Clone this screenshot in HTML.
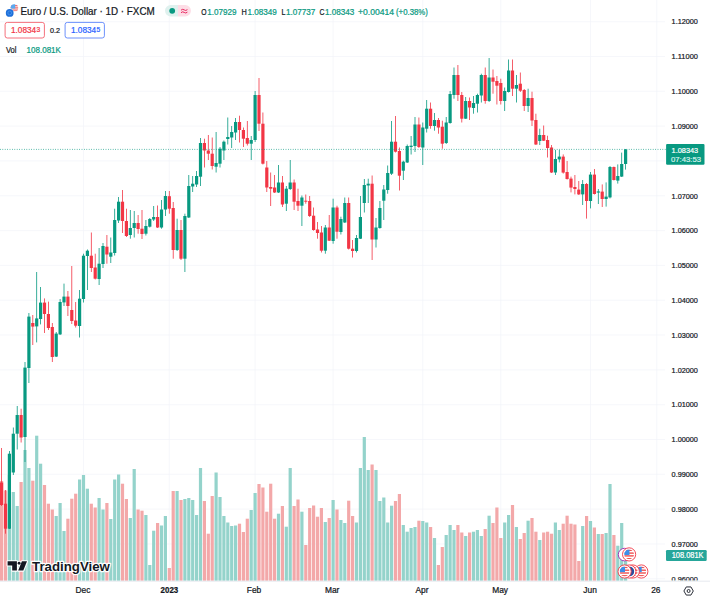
<!DOCTYPE html>
<html><head><meta charset="utf-8"><title>EURUSD chart</title>
<style>html,body{margin:0;padding:0;background:#fff;overflow:hidden}svg{display:block}</style></head>
<body>
<svg width="710" height="600" viewBox="0 0 710 600">
<rect width="710" height="600" fill="#fff"/>
<g stroke="#f2f4f9" stroke-width="0.7">
<line x1="0" x2="665" y1="21.7" y2="21.7"/>
<line x1="0" x2="665" y1="56.5" y2="56.5"/>
<line x1="0" x2="665" y1="91.3" y2="91.3"/>
<line x1="0" x2="665" y1="126.1" y2="126.1"/>
<line x1="0" x2="665" y1="160.9" y2="160.9"/>
<line x1="0" x2="665" y1="195.8" y2="195.8"/>
<line x1="0" x2="665" y1="230.6" y2="230.6"/>
<line x1="0" x2="665" y1="265.4" y2="265.4"/>
<line x1="0" x2="665" y1="300.2" y2="300.2"/>
<line x1="0" x2="665" y1="335.0" y2="335.0"/>
<line x1="0" x2="665" y1="369.9" y2="369.9"/>
<line x1="0" x2="665" y1="404.7" y2="404.7"/>
<line x1="0" x2="665" y1="439.5" y2="439.5"/>
<line x1="0" x2="665" y1="474.3" y2="474.3"/>
<line x1="0" x2="665" y1="509.1" y2="509.1"/>
<line x1="0" x2="665" y1="544.0" y2="544.0"/>
<line x1="0" x2="665" y1="578.8" y2="578.8"/>
<line x1="83.5" x2="83.5" y1="0" y2="580.7"/>
<line x1="169.3" x2="169.3" y1="0" y2="580.7"/>
<line x1="255.1" x2="255.1" y1="0" y2="580.7"/>
<line x1="333.1" x2="333.1" y1="0" y2="580.7"/>
<line x1="422.8" x2="422.8" y1="0" y2="580.7"/>
<line x1="500.8" x2="500.8" y1="0" y2="580.7"/>
<line x1="590.5" x2="590.5" y1="0" y2="580.7"/>
<line x1="656.8" x2="656.8" y1="0" y2="580.7"/>
</g>
<g>
<rect x="0.00" y="481.0" width="3.20" height="99.7" fill="#f3a8a9"/>
<rect x="3.90" y="490.5" width="3.20" height="90.2" fill="#f3a8a9"/>
<rect x="7.80" y="475.0" width="3.20" height="105.7" fill="#94d3cb"/>
<rect x="11.70" y="492.0" width="3.20" height="88.7" fill="#94d3cb"/>
<rect x="15.60" y="506.0" width="3.20" height="74.7" fill="#94d3cb"/>
<rect x="19.50" y="482.0" width="3.20" height="98.7" fill="#f3a8a9"/>
<rect x="23.40" y="450.0" width="3.20" height="130.7" fill="#94d3cb"/>
<rect x="27.30" y="468.0" width="3.20" height="112.7" fill="#94d3cb"/>
<rect x="31.20" y="480.7" width="3.20" height="100.0" fill="#f3a8a9"/>
<rect x="35.10" y="435.7" width="3.20" height="145.0" fill="#94d3cb"/>
<rect x="39.00" y="463.7" width="3.20" height="117.0" fill="#94d3cb"/>
<rect x="42.90" y="485.0" width="3.20" height="95.7" fill="#f3a8a9"/>
<rect x="46.80" y="503.7" width="3.20" height="77.0" fill="#f3a8a9"/>
<rect x="50.70" y="509.5" width="3.20" height="71.2" fill="#f3a8a9"/>
<rect x="54.60" y="516.0" width="3.20" height="64.7" fill="#94d3cb"/>
<rect x="58.50" y="503.0" width="3.20" height="77.7" fill="#94d3cb"/>
<rect x="62.40" y="531.0" width="3.20" height="49.7" fill="#94d3cb"/>
<rect x="66.30" y="518.7" width="3.20" height="62.0" fill="#f3a8a9"/>
<rect x="70.20" y="498.7" width="3.20" height="82.0" fill="#f3a8a9"/>
<rect x="74.10" y="493.7" width="3.20" height="87.0" fill="#f3a8a9"/>
<rect x="78.00" y="479.5" width="3.20" height="101.2" fill="#94d3cb"/>
<rect x="81.90" y="475.0" width="3.20" height="105.7" fill="#94d3cb"/>
<rect x="85.80" y="488.7" width="3.20" height="92.0" fill="#94d3cb"/>
<rect x="89.70" y="503.7" width="3.20" height="77.0" fill="#f3a8a9"/>
<rect x="93.60" y="507.5" width="3.20" height="73.2" fill="#f3a8a9"/>
<rect x="97.50" y="498.0" width="3.20" height="82.7" fill="#94d3cb"/>
<rect x="101.40" y="509.5" width="3.20" height="71.2" fill="#94d3cb"/>
<rect x="105.30" y="503.0" width="3.20" height="77.7" fill="#f3a8a9"/>
<rect x="109.20" y="519.0" width="3.20" height="61.7" fill="#94d3cb"/>
<rect x="113.10" y="479.5" width="3.20" height="101.2" fill="#94d3cb"/>
<rect x="117.00" y="474.5" width="3.20" height="106.2" fill="#94d3cb"/>
<rect x="120.90" y="483.7" width="3.20" height="97.0" fill="#f3a8a9"/>
<rect x="124.80" y="499.0" width="3.20" height="81.7" fill="#f3a8a9"/>
<rect x="128.70" y="518.0" width="3.20" height="62.7" fill="#94d3cb"/>
<rect x="132.60" y="469.0" width="3.20" height="111.7" fill="#94d3cb"/>
<rect x="136.50" y="509.5" width="3.20" height="71.2" fill="#f3a8a9"/>
<rect x="140.40" y="510.7" width="3.20" height="70.0" fill="#f3a8a9"/>
<rect x="144.30" y="515.0" width="3.20" height="65.7" fill="#94d3cb"/>
<rect x="148.20" y="565.0" width="3.20" height="15.7" fill="#94d3cb"/>
<rect x="152.10" y="530.7" width="3.20" height="50.0" fill="#94d3cb"/>
<rect x="156.00" y="523.0" width="3.20" height="57.7" fill="#f3a8a9"/>
<rect x="159.90" y="525.5" width="3.20" height="55.2" fill="#94d3cb"/>
<rect x="163.80" y="516.0" width="3.20" height="64.7" fill="#94d3cb"/>
<rect x="167.70" y="568.0" width="3.20" height="12.7" fill="#f3a8a9"/>
<rect x="171.60" y="491.0" width="3.20" height="89.7" fill="#f3a8a9"/>
<rect x="175.50" y="491.0" width="3.20" height="89.7" fill="#94d3cb"/>
<rect x="179.40" y="500.0" width="3.20" height="80.7" fill="#f3a8a9"/>
<rect x="183.30" y="499.0" width="3.20" height="81.7" fill="#94d3cb"/>
<rect x="187.20" y="498.0" width="3.20" height="82.7" fill="#94d3cb"/>
<rect x="191.10" y="500.0" width="3.20" height="80.7" fill="#94d3cb"/>
<rect x="195.00" y="515.0" width="3.20" height="65.7" fill="#94d3cb"/>
<rect x="198.90" y="468.0" width="3.20" height="112.7" fill="#94d3cb"/>
<rect x="202.80" y="501.0" width="3.20" height="79.7" fill="#f3a8a9"/>
<rect x="206.70" y="533.7" width="3.20" height="47.0" fill="#f3a8a9"/>
<rect x="210.60" y="496.0" width="3.20" height="84.7" fill="#f3a8a9"/>
<rect x="214.50" y="472.5" width="3.20" height="108.2" fill="#94d3cb"/>
<rect x="218.40" y="497.0" width="3.20" height="83.7" fill="#94d3cb"/>
<rect x="222.30" y="516.0" width="3.20" height="64.7" fill="#94d3cb"/>
<rect x="226.20" y="522.5" width="3.20" height="58.2" fill="#94d3cb"/>
<rect x="230.10" y="526.0" width="3.20" height="54.7" fill="#94d3cb"/>
<rect x="234.00" y="525.5" width="3.20" height="55.2" fill="#94d3cb"/>
<rect x="237.90" y="523.7" width="3.20" height="57.0" fill="#f3a8a9"/>
<rect x="241.80" y="532.0" width="3.20" height="48.7" fill="#f3a8a9"/>
<rect x="245.70" y="518.7" width="3.20" height="62.0" fill="#f3a8a9"/>
<rect x="249.60" y="510.0" width="3.20" height="70.7" fill="#94d3cb"/>
<rect x="253.50" y="493.0" width="3.20" height="87.7" fill="#94d3cb"/>
<rect x="257.40" y="484.0" width="3.20" height="96.7" fill="#f3a8a9"/>
<rect x="261.30" y="487.5" width="3.20" height="93.2" fill="#f3a8a9"/>
<rect x="265.20" y="511.7" width="3.20" height="69.0" fill="#f3a8a9"/>
<rect x="269.10" y="483.7" width="3.20" height="97.0" fill="#f3a8a9"/>
<rect x="273.00" y="518.7" width="3.20" height="62.0" fill="#f3a8a9"/>
<rect x="276.90" y="513.7" width="3.20" height="67.0" fill="#94d3cb"/>
<rect x="280.80" y="506.0" width="3.20" height="74.7" fill="#f3a8a9"/>
<rect x="284.70" y="526.7" width="3.20" height="54.0" fill="#94d3cb"/>
<rect x="288.60" y="468.0" width="3.20" height="112.7" fill="#94d3cb"/>
<rect x="292.50" y="506.0" width="3.20" height="74.7" fill="#f3a8a9"/>
<rect x="296.40" y="499.5" width="3.20" height="81.2" fill="#f3a8a9"/>
<rect x="300.30" y="511.7" width="3.20" height="69.0" fill="#94d3cb"/>
<rect x="304.20" y="545.0" width="3.20" height="35.7" fill="#f3a8a9"/>
<rect x="308.10" y="508.0" width="3.20" height="72.7" fill="#f3a8a9"/>
<rect x="312.00" y="505.5" width="3.20" height="75.2" fill="#f3a8a9"/>
<rect x="315.90" y="516.7" width="3.20" height="64.0" fill="#f3a8a9"/>
<rect x="319.80" y="508.0" width="3.20" height="72.7" fill="#f3a8a9"/>
<rect x="323.70" y="522.0" width="3.20" height="58.7" fill="#94d3cb"/>
<rect x="327.60" y="518.0" width="3.20" height="62.7" fill="#f3a8a9"/>
<rect x="331.50" y="500.0" width="3.20" height="80.7" fill="#94d3cb"/>
<rect x="335.40" y="509.5" width="3.20" height="71.2" fill="#f3a8a9"/>
<rect x="339.30" y="520.0" width="3.20" height="60.7" fill="#94d3cb"/>
<rect x="343.20" y="523.0" width="3.20" height="57.7" fill="#94d3cb"/>
<rect x="347.10" y="500.7" width="3.20" height="80.0" fill="#f3a8a9"/>
<rect x="351.00" y="516.0" width="3.20" height="64.7" fill="#f3a8a9"/>
<rect x="354.90" y="522.5" width="3.20" height="58.2" fill="#94d3cb"/>
<rect x="358.80" y="468.0" width="3.20" height="112.7" fill="#94d3cb"/>
<rect x="362.70" y="437.0" width="3.20" height="143.7" fill="#94d3cb"/>
<rect x="366.60" y="470.0" width="3.20" height="110.7" fill="#94d3cb"/>
<rect x="370.50" y="464.5" width="3.20" height="116.2" fill="#f3a8a9"/>
<rect x="374.40" y="470.0" width="3.20" height="110.7" fill="#94d3cb"/>
<rect x="378.30" y="501.0" width="3.20" height="79.7" fill="#94d3cb"/>
<rect x="382.20" y="497.5" width="3.20" height="83.2" fill="#94d3cb"/>
<rect x="386.10" y="522.5" width="3.20" height="58.2" fill="#94d3cb"/>
<rect x="390.00" y="505.7" width="3.20" height="75.0" fill="#94d3cb"/>
<rect x="393.90" y="501.0" width="3.20" height="79.7" fill="#f3a8a9"/>
<rect x="397.80" y="494.0" width="3.20" height="86.7" fill="#f3a8a9"/>
<rect x="401.70" y="525.0" width="3.20" height="55.7" fill="#94d3cb"/>
<rect x="405.60" y="531.7" width="3.20" height="49.0" fill="#94d3cb"/>
<rect x="409.50" y="528.0" width="3.20" height="52.7" fill="#94d3cb"/>
<rect x="413.40" y="527.0" width="3.20" height="53.7" fill="#94d3cb"/>
<rect x="417.30" y="520.7" width="3.20" height="60.0" fill="#f3a8a9"/>
<rect x="421.20" y="521.0" width="3.20" height="59.7" fill="#94d3cb"/>
<rect x="425.10" y="522.5" width="3.20" height="58.2" fill="#94d3cb"/>
<rect x="429.00" y="527.0" width="3.20" height="53.7" fill="#f3a8a9"/>
<rect x="432.90" y="538.0" width="3.20" height="42.7" fill="#94d3cb"/>
<rect x="436.80" y="565.0" width="3.20" height="15.7" fill="#f3a8a9"/>
<rect x="440.70" y="547.0" width="3.20" height="33.7" fill="#f3a8a9"/>
<rect x="444.60" y="535.0" width="3.20" height="45.7" fill="#94d3cb"/>
<rect x="448.50" y="525.0" width="3.20" height="55.7" fill="#94d3cb"/>
<rect x="452.40" y="530.0" width="3.20" height="50.7" fill="#94d3cb"/>
<rect x="456.30" y="525.0" width="3.20" height="55.7" fill="#f3a8a9"/>
<rect x="460.20" y="532.5" width="3.20" height="48.2" fill="#f3a8a9"/>
<rect x="464.10" y="536.0" width="3.20" height="44.7" fill="#94d3cb"/>
<rect x="468.00" y="532.5" width="3.20" height="48.2" fill="#f3a8a9"/>
<rect x="471.90" y="531.7" width="3.20" height="49.0" fill="#94d3cb"/>
<rect x="475.80" y="530.0" width="3.20" height="50.7" fill="#94d3cb"/>
<rect x="479.70" y="536.0" width="3.20" height="44.7" fill="#94d3cb"/>
<rect x="483.60" y="529.0" width="3.20" height="51.7" fill="#f3a8a9"/>
<rect x="487.50" y="515.7" width="3.20" height="65.0" fill="#94d3cb"/>
<rect x="491.40" y="523.0" width="3.20" height="57.7" fill="#f3a8a9"/>
<rect x="495.30" y="507.5" width="3.20" height="73.2" fill="#f3a8a9"/>
<rect x="499.20" y="538.0" width="3.20" height="42.7" fill="#f3a8a9"/>
<rect x="503.10" y="522.5" width="3.20" height="58.2" fill="#94d3cb"/>
<rect x="507.00" y="515.0" width="3.20" height="65.7" fill="#94d3cb"/>
<rect x="510.90" y="505.0" width="3.20" height="75.7" fill="#f3a8a9"/>
<rect x="514.80" y="527.0" width="3.20" height="53.7" fill="#94d3cb"/>
<rect x="518.70" y="539.0" width="3.20" height="41.7" fill="#f3a8a9"/>
<rect x="522.60" y="533.0" width="3.20" height="47.7" fill="#f3a8a9"/>
<rect x="526.50" y="520.7" width="3.20" height="60.0" fill="#94d3cb"/>
<rect x="530.40" y="518.0" width="3.20" height="62.7" fill="#f3a8a9"/>
<rect x="534.30" y="531.7" width="3.20" height="49.0" fill="#f3a8a9"/>
<rect x="538.20" y="540.0" width="3.20" height="40.7" fill="#94d3cb"/>
<rect x="542.10" y="532.5" width="3.20" height="48.2" fill="#f3a8a9"/>
<rect x="546.00" y="531.7" width="3.20" height="49.0" fill="#f3a8a9"/>
<rect x="549.90" y="533.7" width="3.20" height="47.0" fill="#f3a8a9"/>
<rect x="553.80" y="522.5" width="3.20" height="58.2" fill="#94d3cb"/>
<rect x="557.70" y="530.0" width="3.20" height="50.7" fill="#94d3cb"/>
<rect x="561.60" y="523.7" width="3.20" height="57.0" fill="#f3a8a9"/>
<rect x="565.50" y="515.7" width="3.20" height="65.0" fill="#f3a8a9"/>
<rect x="569.40" y="523.7" width="3.20" height="57.0" fill="#f3a8a9"/>
<rect x="573.30" y="524.5" width="3.20" height="56.2" fill="#f3a8a9"/>
<rect x="577.20" y="561.0" width="3.20" height="19.7" fill="#f3a8a9"/>
<rect x="581.10" y="526.0" width="3.20" height="54.7" fill="#94d3cb"/>
<rect x="585.00" y="516.0" width="3.20" height="64.7" fill="#f3a8a9"/>
<rect x="588.90" y="521.0" width="3.20" height="59.7" fill="#94d3cb"/>
<rect x="592.80" y="527.5" width="3.20" height="53.2" fill="#f3a8a9"/>
<rect x="596.70" y="534.0" width="3.20" height="46.7" fill="#94d3cb"/>
<rect x="600.60" y="534.0" width="3.20" height="46.7" fill="#f3a8a9"/>
<rect x="604.50" y="533.0" width="3.20" height="47.7" fill="#94d3cb"/>
<rect x="608.40" y="484.0" width="3.20" height="96.7" fill="#94d3cb"/>
<rect x="612.30" y="535.0" width="3.20" height="45.7" fill="#f3a8a9"/>
<rect x="616.20" y="545.7" width="3.20" height="35.0" fill="#94d3cb"/>
<rect x="620.10" y="523.0" width="3.20" height="57.7" fill="#94d3cb"/>
<rect x="624.00" y="555.0" width="3.20" height="25.7" fill="#94d3cb"/>
</g>
<g>
<rect x="1.20" y="448.0" width="0.8" height="58.0" fill="#f23645"/>
<rect x="0.00" y="482.5" width="3.20" height="22.5" fill="#f23645"/>
<rect x="5.10" y="490.0" width="0.8" height="43.7" fill="#f23645"/>
<rect x="3.90" y="503.7" width="3.20" height="25.0" fill="#f23645"/>
<rect x="9.00" y="451.0" width="0.8" height="78.0" fill="#089981"/>
<rect x="7.80" y="453.7" width="3.20" height="75.0" fill="#089981"/>
<rect x="12.90" y="427.5" width="0.8" height="47.5" fill="#089981"/>
<rect x="11.70" y="433.7" width="3.20" height="38.8" fill="#089981"/>
<rect x="16.80" y="406.0" width="0.8" height="43.5" fill="#089981"/>
<rect x="15.60" y="415.0" width="3.20" height="18.7" fill="#089981"/>
<rect x="20.70" y="408.7" width="0.8" height="33.8" fill="#f23645"/>
<rect x="19.50" y="415.0" width="3.20" height="22.5" fill="#f23645"/>
<rect x="24.60" y="362.0" width="0.8" height="100.0" fill="#089981"/>
<rect x="23.40" y="367.6" width="3.20" height="69.4" fill="#089981"/>
<rect x="28.50" y="313.0" width="0.8" height="70.0" fill="#089981"/>
<rect x="27.30" y="316.6" width="3.20" height="51.4" fill="#089981"/>
<rect x="32.40" y="315.0" width="0.8" height="30.0" fill="#f23645"/>
<rect x="31.20" y="323.0" width="3.20" height="3.6" fill="#f23645"/>
<rect x="36.30" y="272.0" width="0.8" height="70.4" fill="#089981"/>
<rect x="35.10" y="318.4" width="3.20" height="8.0" fill="#089981"/>
<rect x="40.20" y="287.0" width="0.8" height="37.4" fill="#089981"/>
<rect x="39.00" y="302.6" width="3.20" height="16.4" fill="#089981"/>
<rect x="44.10" y="298.4" width="0.8" height="34.6" fill="#f23645"/>
<rect x="42.90" y="302.6" width="3.20" height="11.4" fill="#f23645"/>
<rect x="48.00" y="301.6" width="0.8" height="28.4" fill="#f23645"/>
<rect x="46.80" y="314.0" width="3.20" height="14.0" fill="#f23645"/>
<rect x="51.90" y="323.0" width="0.8" height="39.0" fill="#f23645"/>
<rect x="50.70" y="327.0" width="3.20" height="30.0" fill="#f23645"/>
<rect x="55.80" y="332.0" width="0.8" height="25.0" fill="#089981"/>
<rect x="54.60" y="333.6" width="3.20" height="23.0" fill="#089981"/>
<rect x="59.70" y="299.0" width="0.8" height="36.0" fill="#089981"/>
<rect x="58.50" y="302.0" width="3.20" height="32.4" fill="#089981"/>
<rect x="63.60" y="283.6" width="0.8" height="22.4" fill="#089981"/>
<rect x="62.40" y="296.6" width="3.20" height="5.8" fill="#089981"/>
<rect x="67.50" y="291.0" width="0.8" height="25.0" fill="#f23645"/>
<rect x="66.30" y="296.6" width="3.20" height="9.4" fill="#f23645"/>
<rect x="71.40" y="266.0" width="0.8" height="58.0" fill="#f23645"/>
<rect x="70.20" y="310.0" width="3.20" height="11.0" fill="#f23645"/>
<rect x="75.30" y="302.0" width="0.8" height="25.5" fill="#f23645"/>
<rect x="74.10" y="320.5" width="3.20" height="5.2" fill="#f23645"/>
<rect x="79.20" y="290.0" width="0.8" height="47.5" fill="#089981"/>
<rect x="78.00" y="298.7" width="3.20" height="27.3" fill="#089981"/>
<rect x="83.10" y="253.7" width="0.8" height="48.8" fill="#089981"/>
<rect x="81.90" y="255.7" width="3.20" height="43.3" fill="#089981"/>
<rect x="87.00" y="249.5" width="0.8" height="40.5" fill="#089981"/>
<rect x="85.80" y="250.7" width="3.20" height="5.3" fill="#089981"/>
<rect x="90.90" y="232.5" width="0.8" height="39.5" fill="#f23645"/>
<rect x="89.70" y="255.7" width="3.20" height="12.3" fill="#f23645"/>
<rect x="94.80" y="253.7" width="0.8" height="25.8" fill="#f23645"/>
<rect x="93.60" y="267.5" width="3.20" height="11.2" fill="#f23645"/>
<rect x="98.70" y="248.0" width="0.8" height="37.0" fill="#089981"/>
<rect x="97.50" y="263.7" width="3.20" height="15.3" fill="#089981"/>
<rect x="102.60" y="243.0" width="0.8" height="25.0" fill="#089981"/>
<rect x="101.40" y="246.0" width="3.20" height="18.0" fill="#089981"/>
<rect x="106.50" y="235.0" width="0.8" height="28.7" fill="#f23645"/>
<rect x="105.30" y="246.7" width="3.20" height="7.8" fill="#f23645"/>
<rect x="110.40" y="237.5" width="0.8" height="25.5" fill="#089981"/>
<rect x="109.20" y="252.5" width="3.20" height="4.2" fill="#089981"/>
<rect x="114.30" y="208.7" width="0.8" height="46.8" fill="#089981"/>
<rect x="113.10" y="220.0" width="3.20" height="33.0" fill="#089981"/>
<rect x="118.20" y="197.0" width="0.8" height="26.0" fill="#089981"/>
<rect x="117.00" y="201.7" width="3.20" height="18.8" fill="#089981"/>
<rect x="122.10" y="190.0" width="0.8" height="43.0" fill="#f23645"/>
<rect x="120.90" y="201.7" width="3.20" height="19.3" fill="#f23645"/>
<rect x="126.00" y="208.7" width="0.8" height="28.3" fill="#f23645"/>
<rect x="124.80" y="221.0" width="3.20" height="15.0" fill="#f23645"/>
<rect x="129.90" y="210.0" width="0.8" height="28.7" fill="#089981"/>
<rect x="128.70" y="228.0" width="3.20" height="7.0" fill="#089981"/>
<rect x="133.80" y="211.0" width="0.8" height="26.5" fill="#089981"/>
<rect x="132.60" y="223.0" width="3.20" height="5.0" fill="#089981"/>
<rect x="137.70" y="215.0" width="0.8" height="18.7" fill="#f23645"/>
<rect x="136.50" y="223.0" width="3.20" height="6.0" fill="#f23645"/>
<rect x="141.60" y="210.0" width="0.8" height="29.0" fill="#f23645"/>
<rect x="140.40" y="228.7" width="3.20" height="5.3" fill="#f23645"/>
<rect x="145.50" y="220.0" width="0.8" height="15.5" fill="#089981"/>
<rect x="144.30" y="226.0" width="3.20" height="7.7" fill="#089981"/>
<rect x="149.40" y="218.0" width="0.8" height="9.5" fill="#089981"/>
<rect x="148.20" y="219.0" width="3.20" height="7.7" fill="#089981"/>
<rect x="153.30" y="206.0" width="0.8" height="15.0" fill="#089981"/>
<rect x="152.10" y="217.0" width="3.20" height="2.5" fill="#089981"/>
<rect x="157.20" y="205.5" width="0.8" height="22.5" fill="#f23645"/>
<rect x="156.00" y="217.0" width="3.20" height="10.5" fill="#f23645"/>
<rect x="161.10" y="200.0" width="0.8" height="28.7" fill="#089981"/>
<rect x="159.90" y="209.5" width="3.20" height="18.0" fill="#089981"/>
<rect x="165.00" y="191.0" width="0.8" height="25.0" fill="#089981"/>
<rect x="163.80" y="196.0" width="3.20" height="13.5" fill="#089981"/>
<rect x="168.90" y="191.0" width="0.8" height="22.7" fill="#f23645"/>
<rect x="167.70" y="196.2" width="3.20" height="12.5" fill="#f23645"/>
<rect x="172.80" y="202.0" width="0.8" height="56.7" fill="#f23645"/>
<rect x="171.60" y="208.0" width="3.20" height="42.0" fill="#f23645"/>
<rect x="176.70" y="218.7" width="0.8" height="32.3" fill="#089981"/>
<rect x="175.50" y="230.0" width="3.20" height="20.0" fill="#089981"/>
<rect x="180.60" y="220.0" width="0.8" height="40.0" fill="#f23645"/>
<rect x="179.40" y="230.0" width="3.20" height="28.7" fill="#f23645"/>
<rect x="184.50" y="213.7" width="0.8" height="58.3" fill="#089981"/>
<rect x="183.30" y="216.0" width="3.20" height="42.7" fill="#089981"/>
<rect x="188.40" y="175.0" width="0.8" height="43.0" fill="#089981"/>
<rect x="187.20" y="186.0" width="3.20" height="31.5" fill="#089981"/>
<rect x="192.30" y="176.0" width="0.8" height="16.0" fill="#089981"/>
<rect x="191.10" y="183.7" width="3.20" height="2.8" fill="#089981"/>
<rect x="196.20" y="171.0" width="0.8" height="16.0" fill="#089981"/>
<rect x="195.00" y="176.0" width="3.20" height="8.5" fill="#089981"/>
<rect x="200.10" y="138.0" width="0.8" height="48.0" fill="#089981"/>
<rect x="198.90" y="143.0" width="3.20" height="33.7" fill="#089981"/>
<rect x="204.00" y="138.7" width="0.8" height="28.8" fill="#f23645"/>
<rect x="202.80" y="143.0" width="3.20" height="7.5" fill="#f23645"/>
<rect x="207.90" y="135.0" width="0.8" height="25.0" fill="#f23645"/>
<rect x="206.70" y="150.5" width="3.20" height="3.2" fill="#f23645"/>
<rect x="211.80" y="137.5" width="0.8" height="32.0" fill="#f23645"/>
<rect x="210.60" y="153.7" width="3.20" height="12.3" fill="#f23645"/>
<rect x="215.70" y="132.0" width="0.8" height="40.5" fill="#089981"/>
<rect x="214.50" y="163.0" width="3.20" height="3.7" fill="#089981"/>
<rect x="219.60" y="147.0" width="0.8" height="20.5" fill="#089981"/>
<rect x="218.40" y="148.7" width="3.20" height="15.0" fill="#089981"/>
<rect x="223.50" y="140.5" width="0.8" height="19.5" fill="#089981"/>
<rect x="222.30" y="141.7" width="3.20" height="8.8" fill="#089981"/>
<rect x="227.40" y="117.5" width="0.8" height="27.0" fill="#089981"/>
<rect x="226.20" y="137.0" width="3.20" height="2.0" fill="#089981"/>
<rect x="231.30" y="126.0" width="0.8" height="22.0" fill="#089981"/>
<rect x="230.10" y="132.0" width="3.20" height="5.5" fill="#089981"/>
<rect x="235.20" y="118.0" width="0.8" height="22.0" fill="#089981"/>
<rect x="234.00" y="122.0" width="3.20" height="10.5" fill="#089981"/>
<rect x="239.10" y="115.7" width="0.8" height="26.8" fill="#f23645"/>
<rect x="237.90" y="122.0" width="3.20" height="8.0" fill="#f23645"/>
<rect x="243.00" y="127.5" width="0.8" height="19.5" fill="#f23645"/>
<rect x="241.80" y="130.0" width="3.20" height="8.7" fill="#f23645"/>
<rect x="246.90" y="121.0" width="0.8" height="24.5" fill="#f23645"/>
<rect x="245.70" y="138.0" width="3.20" height="5.7" fill="#f23645"/>
<rect x="250.80" y="136.0" width="0.8" height="24.0" fill="#089981"/>
<rect x="249.60" y="140.0" width="3.20" height="3.7" fill="#089981"/>
<rect x="254.70" y="91.0" width="0.8" height="51.0" fill="#089981"/>
<rect x="253.50" y="95.0" width="3.20" height="45.0" fill="#089981"/>
<rect x="258.60" y="78.0" width="0.8" height="53.0" fill="#f23645"/>
<rect x="257.40" y="95.0" width="3.20" height="28.7" fill="#f23645"/>
<rect x="262.50" y="112.5" width="0.8" height="52.0" fill="#f23645"/>
<rect x="261.30" y="123.7" width="3.20" height="40.0" fill="#f23645"/>
<rect x="266.40" y="161.0" width="0.8" height="31.0" fill="#f23645"/>
<rect x="265.20" y="167.5" width="3.20" height="20.0" fill="#f23645"/>
<rect x="270.30" y="172.5" width="0.8" height="33.5" fill="#f23645"/>
<rect x="269.10" y="187.0" width="3.20" height="1.7" fill="#f23645"/>
<rect x="274.20" y="175.0" width="0.8" height="18.0" fill="#f23645"/>
<rect x="273.00" y="187.5" width="3.20" height="5.0" fill="#f23645"/>
<rect x="278.10" y="165.0" width="0.8" height="28.0" fill="#089981"/>
<rect x="276.90" y="182.5" width="3.20" height="10.0" fill="#089981"/>
<rect x="282.00" y="176.0" width="0.8" height="31.0" fill="#f23645"/>
<rect x="280.80" y="182.5" width="3.20" height="22.0" fill="#f23645"/>
<rect x="285.90" y="186.0" width="0.8" height="25.0" fill="#089981"/>
<rect x="284.70" y="188.7" width="3.20" height="15.0" fill="#089981"/>
<rect x="289.80" y="160.0" width="0.8" height="30.0" fill="#089981"/>
<rect x="288.60" y="182.5" width="3.20" height="6.5" fill="#089981"/>
<rect x="293.70" y="179.5" width="0.8" height="30.5" fill="#f23645"/>
<rect x="292.50" y="182.5" width="3.20" height="19.2" fill="#f23645"/>
<rect x="297.60" y="188.7" width="0.8" height="22.3" fill="#f23645"/>
<rect x="296.40" y="201.0" width="3.20" height="4.7" fill="#f23645"/>
<rect x="301.50" y="195.5" width="0.8" height="30.5" fill="#089981"/>
<rect x="300.30" y="197.5" width="3.20" height="8.2" fill="#089981"/>
<rect x="305.40" y="194.5" width="0.8" height="9.2" fill="#f23645"/>
<rect x="304.20" y="200.7" width="3.20" height="1.0" fill="#f23645"/>
<rect x="309.30" y="196.0" width="0.8" height="21.0" fill="#f23645"/>
<rect x="308.10" y="201.0" width="3.20" height="15.0" fill="#f23645"/>
<rect x="313.20" y="207.5" width="0.8" height="23.2" fill="#f23645"/>
<rect x="312.00" y="215.7" width="3.20" height="14.3" fill="#f23645"/>
<rect x="317.10" y="222.0" width="0.8" height="16.7" fill="#f23645"/>
<rect x="315.90" y="229.5" width="3.20" height="3.5" fill="#f23645"/>
<rect x="321.00" y="226.0" width="0.8" height="26.5" fill="#f23645"/>
<rect x="319.80" y="232.5" width="3.20" height="18.2" fill="#f23645"/>
<rect x="324.90" y="225.0" width="0.8" height="28.7" fill="#089981"/>
<rect x="323.70" y="227.5" width="3.20" height="23.2" fill="#089981"/>
<rect x="328.80" y="215.0" width="0.8" height="26.0" fill="#f23645"/>
<rect x="327.60" y="227.5" width="3.20" height="13.2" fill="#f23645"/>
<rect x="332.70" y="198.7" width="0.8" height="45.0" fill="#089981"/>
<rect x="331.50" y="207.5" width="3.20" height="33.5" fill="#089981"/>
<rect x="336.60" y="205.7" width="0.8" height="33.0" fill="#f23645"/>
<rect x="335.40" y="207.5" width="3.20" height="24.2" fill="#f23645"/>
<rect x="340.50" y="216.7" width="0.8" height="17.8" fill="#089981"/>
<rect x="339.30" y="219.0" width="3.20" height="13.0" fill="#089981"/>
<rect x="344.40" y="197.5" width="0.8" height="25.5" fill="#089981"/>
<rect x="343.20" y="203.0" width="3.20" height="19.5" fill="#089981"/>
<rect x="348.30" y="197.5" width="0.8" height="52.0" fill="#f23645"/>
<rect x="347.10" y="203.0" width="3.20" height="45.7" fill="#f23645"/>
<rect x="352.20" y="240.0" width="0.8" height="17.5" fill="#f23645"/>
<rect x="351.00" y="248.7" width="3.20" height="2.3" fill="#f23645"/>
<rect x="356.10" y="235.0" width="0.8" height="17.5" fill="#089981"/>
<rect x="354.90" y="238.0" width="3.20" height="13.0" fill="#089981"/>
<rect x="360.00" y="196.0" width="0.8" height="43.0" fill="#089981"/>
<rect x="358.80" y="217.0" width="3.20" height="21.7" fill="#089981"/>
<rect x="363.90" y="179.0" width="0.8" height="33.5" fill="#089981"/>
<rect x="362.70" y="185.0" width="3.20" height="18.0" fill="#089981"/>
<rect x="367.80" y="178.7" width="0.8" height="24.3" fill="#089981"/>
<rect x="366.60" y="183.7" width="3.20" height="1.8" fill="#089981"/>
<rect x="371.70" y="175.5" width="0.8" height="84.5" fill="#f23645"/>
<rect x="370.50" y="183.7" width="3.20" height="55.8" fill="#f23645"/>
<rect x="375.60" y="218.0" width="0.8" height="29.5" fill="#089981"/>
<rect x="374.40" y="227.5" width="3.20" height="12.0" fill="#089981"/>
<rect x="379.50" y="201.0" width="0.8" height="27.7" fill="#089981"/>
<rect x="378.30" y="208.0" width="3.20" height="20.0" fill="#089981"/>
<rect x="383.40" y="185.0" width="0.8" height="35.0" fill="#089981"/>
<rect x="382.20" y="189.5" width="3.20" height="11.2" fill="#089981"/>
<rect x="387.30" y="165.5" width="0.8" height="28.2" fill="#089981"/>
<rect x="386.10" y="173.0" width="3.20" height="17.0" fill="#089981"/>
<rect x="391.20" y="121.0" width="0.8" height="54.0" fill="#089981"/>
<rect x="390.00" y="141.7" width="3.20" height="32.0" fill="#089981"/>
<rect x="395.10" y="116.0" width="0.8" height="36.5" fill="#f23645"/>
<rect x="393.90" y="141.7" width="3.20" height="10.0" fill="#f23645"/>
<rect x="399.00" y="147.5" width="0.8" height="43.0" fill="#f23645"/>
<rect x="397.80" y="151.0" width="3.20" height="24.7" fill="#f23645"/>
<rect x="402.90" y="160.7" width="0.8" height="19.3" fill="#089981"/>
<rect x="401.70" y="161.7" width="3.20" height="9.0" fill="#089981"/>
<rect x="406.80" y="144.5" width="0.8" height="18.5" fill="#089981"/>
<rect x="405.60" y="146.0" width="3.20" height="16.5" fill="#089981"/>
<rect x="410.70" y="136.0" width="0.8" height="18.5" fill="#089981"/>
<rect x="409.50" y="145.7" width="3.20" height="1.3" fill="#089981"/>
<rect x="414.60" y="117.0" width="0.8" height="35.0" fill="#089981"/>
<rect x="413.40" y="124.5" width="3.20" height="21.5" fill="#089981"/>
<rect x="418.50" y="117.5" width="0.8" height="30.5" fill="#f23645"/>
<rect x="417.30" y="124.5" width="3.20" height="22.5" fill="#f23645"/>
<rect x="422.40" y="122.5" width="0.8" height="42.5" fill="#089981"/>
<rect x="421.20" y="127.5" width="3.20" height="20.0" fill="#089981"/>
<rect x="426.30" y="100.0" width="0.8" height="32.5" fill="#089981"/>
<rect x="425.10" y="108.7" width="3.20" height="20.0" fill="#089981"/>
<rect x="430.20" y="102.5" width="0.8" height="26.2" fill="#f23645"/>
<rect x="429.00" y="108.7" width="3.20" height="17.3" fill="#f23645"/>
<rect x="434.10" y="113.0" width="0.8" height="17.7" fill="#089981"/>
<rect x="432.90" y="120.0" width="3.20" height="6.0" fill="#089981"/>
<rect x="438.00" y="118.0" width="0.8" height="15.7" fill="#f23645"/>
<rect x="436.80" y="120.0" width="3.20" height="7.5" fill="#f23645"/>
<rect x="441.90" y="120.7" width="0.8" height="28.0" fill="#f23645"/>
<rect x="440.70" y="126.7" width="3.20" height="17.0" fill="#f23645"/>
<rect x="445.80" y="117.0" width="0.8" height="27.0" fill="#089981"/>
<rect x="444.60" y="122.5" width="3.20" height="20.5" fill="#089981"/>
<rect x="449.70" y="91.0" width="0.8" height="32.7" fill="#089981"/>
<rect x="448.50" y="94.0" width="3.20" height="29.0" fill="#089981"/>
<rect x="453.60" y="67.5" width="0.8" height="31.2" fill="#089981"/>
<rect x="452.40" y="75.0" width="3.20" height="20.0" fill="#089981"/>
<rect x="457.50" y="65.0" width="0.8" height="36.0" fill="#f23645"/>
<rect x="456.30" y="75.0" width="3.20" height="20.0" fill="#f23645"/>
<rect x="461.40" y="92.0" width="0.8" height="30.5" fill="#f23645"/>
<rect x="460.20" y="95.0" width="3.20" height="23.7" fill="#f23645"/>
<rect x="465.30" y="97.0" width="0.8" height="22.0" fill="#089981"/>
<rect x="464.10" y="101.0" width="3.20" height="17.7" fill="#089981"/>
<rect x="469.20" y="97.5" width="0.8" height="22.5" fill="#f23645"/>
<rect x="468.00" y="101.0" width="3.20" height="6.5" fill="#f23645"/>
<rect x="473.10" y="96.0" width="0.8" height="17.7" fill="#089981"/>
<rect x="471.90" y="103.0" width="3.20" height="5.0" fill="#089981"/>
<rect x="477.00" y="93.7" width="0.8" height="18.8" fill="#089981"/>
<rect x="475.80" y="95.0" width="3.20" height="8.7" fill="#089981"/>
<rect x="480.90" y="73.7" width="0.8" height="28.8" fill="#089981"/>
<rect x="479.70" y="75.0" width="3.20" height="20.5" fill="#089981"/>
<rect x="484.80" y="67.5" width="0.8" height="36.2" fill="#f23645"/>
<rect x="483.60" y="75.0" width="3.20" height="26.0" fill="#f23645"/>
<rect x="488.70" y="58.0" width="0.8" height="44.0" fill="#089981"/>
<rect x="487.50" y="77.5" width="3.20" height="23.5" fill="#089981"/>
<rect x="492.60" y="69.5" width="0.8" height="24.2" fill="#f23645"/>
<rect x="491.40" y="77.5" width="3.20" height="4.2" fill="#f23645"/>
<rect x="496.50" y="76.0" width="0.8" height="28.5" fill="#f23645"/>
<rect x="495.30" y="81.0" width="3.20" height="4.7" fill="#f23645"/>
<rect x="500.40" y="78.7" width="0.8" height="25.8" fill="#f23645"/>
<rect x="499.20" y="83.0" width="3.20" height="18.0" fill="#f23645"/>
<rect x="504.30" y="87.5" width="0.8" height="23.5" fill="#089981"/>
<rect x="503.10" y="91.0" width="3.20" height="10.0" fill="#089981"/>
<rect x="508.20" y="59.5" width="0.8" height="33.0" fill="#089981"/>
<rect x="507.00" y="70.5" width="3.20" height="21.5" fill="#089981"/>
<rect x="512.10" y="59.5" width="0.8" height="36.5" fill="#f23645"/>
<rect x="510.90" y="70.5" width="3.20" height="18.2" fill="#f23645"/>
<rect x="516.00" y="75.0" width="0.8" height="27.5" fill="#089981"/>
<rect x="514.80" y="85.0" width="3.20" height="3.7" fill="#089981"/>
<rect x="519.90" y="72.5" width="0.8" height="19.5" fill="#f23645"/>
<rect x="518.70" y="83.7" width="3.20" height="7.0" fill="#f23645"/>
<rect x="523.80" y="89.0" width="0.8" height="22.0" fill="#f23645"/>
<rect x="522.60" y="90.0" width="3.20" height="16.0" fill="#f23645"/>
<rect x="527.70" y="88.7" width="0.8" height="23.3" fill="#089981"/>
<rect x="526.50" y="98.0" width="3.20" height="8.0" fill="#089981"/>
<rect x="531.60" y="91.7" width="0.8" height="34.3" fill="#f23645"/>
<rect x="530.40" y="98.0" width="3.20" height="22.5" fill="#f23645"/>
<rect x="535.50" y="113.7" width="0.8" height="31.3" fill="#f23645"/>
<rect x="534.30" y="120.0" width="3.20" height="24.5" fill="#f23645"/>
<rect x="539.40" y="128.7" width="0.8" height="16.3" fill="#089981"/>
<rect x="538.20" y="135.0" width="3.20" height="6.0" fill="#089981"/>
<rect x="543.30" y="125.5" width="0.8" height="15.5" fill="#f23645"/>
<rect x="542.10" y="135.0" width="3.20" height="5.7" fill="#f23645"/>
<rect x="547.20" y="135.7" width="0.8" height="21.8" fill="#f23645"/>
<rect x="546.00" y="140.0" width="3.20" height="8.0" fill="#f23645"/>
<rect x="551.10" y="145.0" width="0.8" height="28.0" fill="#f23645"/>
<rect x="549.90" y="147.5" width="3.20" height="25.0" fill="#f23645"/>
<rect x="555.00" y="150.0" width="0.8" height="25.0" fill="#089981"/>
<rect x="553.80" y="159.0" width="3.20" height="13.5" fill="#089981"/>
<rect x="558.90" y="150.0" width="0.8" height="12.4" fill="#089981"/>
<rect x="557.70" y="156.6" width="3.20" height="2.8" fill="#089981"/>
<rect x="562.80" y="154.4" width="0.8" height="19.2" fill="#f23645"/>
<rect x="561.60" y="156.6" width="3.20" height="16.0" fill="#f23645"/>
<rect x="566.70" y="161.0" width="0.8" height="18.6" fill="#f23645"/>
<rect x="565.50" y="172.0" width="3.20" height="7.0" fill="#f23645"/>
<rect x="570.60" y="176.6" width="0.8" height="15.8" fill="#f23645"/>
<rect x="569.40" y="178.6" width="3.20" height="9.0" fill="#f23645"/>
<rect x="574.50" y="175.0" width="0.8" height="19.4" fill="#f23645"/>
<rect x="573.30" y="187.0" width="3.20" height="2.0" fill="#f23645"/>
<rect x="578.40" y="181.0" width="0.8" height="14.0" fill="#f23645"/>
<rect x="577.20" y="189.6" width="3.20" height="4.8" fill="#f23645"/>
<rect x="582.30" y="180.0" width="0.8" height="25.0" fill="#089981"/>
<rect x="581.10" y="184.0" width="3.20" height="10.4" fill="#089981"/>
<rect x="586.20" y="183.0" width="0.8" height="35.6" fill="#f23645"/>
<rect x="585.00" y="184.0" width="3.20" height="17.0" fill="#f23645"/>
<rect x="590.10" y="172.0" width="0.8" height="36.4" fill="#089981"/>
<rect x="588.90" y="174.6" width="3.20" height="26.4" fill="#089981"/>
<rect x="594.00" y="169.0" width="0.8" height="25.5" fill="#f23645"/>
<rect x="592.80" y="174.6" width="3.20" height="19.4" fill="#f23645"/>
<rect x="597.90" y="189.0" width="0.8" height="15.0" fill="#089981"/>
<rect x="596.70" y="191.4" width="3.20" height="1.2" fill="#089981"/>
<rect x="601.80" y="184.4" width="0.8" height="22.6" fill="#f23645"/>
<rect x="600.60" y="191.6" width="3.20" height="7.4" fill="#f23645"/>
<rect x="605.70" y="182.4" width="0.8" height="24.2" fill="#089981"/>
<rect x="604.50" y="196.6" width="3.20" height="2.4" fill="#089981"/>
<rect x="609.60" y="166.0" width="0.8" height="32.4" fill="#089981"/>
<rect x="608.40" y="167.0" width="3.20" height="30.4" fill="#089981"/>
<rect x="613.50" y="166.5" width="0.8" height="14.0" fill="#f23645"/>
<rect x="612.30" y="167.0" width="3.20" height="13.0" fill="#f23645"/>
<rect x="617.40" y="164.4" width="0.8" height="19.2" fill="#089981"/>
<rect x="616.20" y="176.0" width="3.20" height="4.6" fill="#089981"/>
<rect x="621.30" y="152.6" width="0.8" height="24.4" fill="#089981"/>
<rect x="620.10" y="164.0" width="3.20" height="12.6" fill="#089981"/>
<rect x="625.20" y="149.0" width="0.8" height="20.6" fill="#089981"/>
<rect x="624.00" y="149.4" width="3.20" height="14.6" fill="#089981"/>
</g>
<line x1="0" x2="666" y1="149.4" y2="149.4" stroke="#089981" stroke-width="0.8" stroke-dasharray="0.8 1.6"/>
<style>text{font-family:"Liberation Sans",sans-serif;fill:#131722;stroke:#131722;stroke-width:.22px}</style>
<circle cx="641.3" cy="571.5" r="6.6" fill="#fff" stroke="#f23645" stroke-width="0.9"/>
<clipPath id="c641_3_571_5"><circle cx="641.3" cy="571.5" r="4.9"/></clipPath>
<g clip-path="url(#c641_3_571_5)">
<rect x="636.3" y="566.5" width="10" height="10" fill="#fff"/>
<rect x="636.3" y="566.70" width="10" height="1.4" fill="#f0504f"/>
<rect x="636.3" y="569.50" width="10" height="1.4" fill="#f0504f"/>
<rect x="636.3" y="572.30" width="10" height="1.4" fill="#f0504f"/>
<rect x="636.3" y="575.10" width="10" height="1.4" fill="#f0504f"/>
<rect x="636.3" y="566.5" width="5.4" height="5.6" fill="#3b8eea"/>
</g>
<circle cx="632.8" cy="571.5" r="6.6" fill="#fff" stroke="#f23645" stroke-width="0.9"/>
<clipPath id="c632_8_571_5"><circle cx="632.8" cy="571.5" r="4.9"/></clipPath>
<g clip-path="url(#c632_8_571_5)">
<rect x="627.8" y="566.5" width="10" height="10" fill="#fff"/>
<rect x="627.8" y="566.70" width="10" height="1.4" fill="#f0504f"/>
<rect x="627.8" y="569.50" width="10" height="1.4" fill="#f0504f"/>
<rect x="627.8" y="572.30" width="10" height="1.4" fill="#f0504f"/>
<rect x="627.8" y="575.10" width="10" height="1.4" fill="#f0504f"/>
<rect x="627.8" y="566.5" width="5.4" height="5.6" fill="#3b8eea"/>
</g>
<circle cx="629.3" cy="571.5" r="6.6" fill="#fff" stroke="#f23645" stroke-width="0.9"/>
<clipPath id="c629_3_571_5"><circle cx="629.3" cy="571.5" r="4.9"/></clipPath>
<g clip-path="url(#c629_3_571_5)">
<rect x="624.3" y="566.5" width="10" height="10" fill="#2a4ea0"/>
</g>
<circle cx="624.6" cy="571.5" r="6.6" fill="#fff" stroke="#f23645" stroke-width="0.9"/>
<clipPath id="c624_6_571_5"><circle cx="624.6" cy="571.5" r="4.9"/></clipPath>
<g clip-path="url(#c624_6_571_5)">
<rect x="619.6" y="566.5" width="10" height="10" fill="#fff"/>
<rect x="619.6" y="566.70" width="10" height="1.4" fill="#f0504f"/>
<rect x="619.6" y="569.50" width="10" height="1.4" fill="#f0504f"/>
<rect x="619.6" y="572.30" width="10" height="1.4" fill="#f0504f"/>
<rect x="619.6" y="575.10" width="10" height="1.4" fill="#f0504f"/>
<rect x="619.6" y="566.5" width="5.4" height="5.6" fill="#3b8eea"/>
</g>
<circle cx="624.6" cy="554.6" r="6.3" fill="#fff" stroke="#9c27b0" stroke-width="0.9"/>
<circle cx="629.1" cy="554.4" r="6.6" fill="#fff" stroke="#f23645" stroke-width="0.9"/>
<clipPath id="c629_1_554_4"><circle cx="629.1" cy="554.4" r="4.9"/></clipPath>
<g clip-path="url(#c629_1_554_4)">
<rect x="624.1" y="549.4" width="10" height="10" fill="#fff"/>
<rect x="624.1" y="549.60" width="10" height="1.4" fill="#f0504f"/>
<rect x="624.1" y="552.40" width="10" height="1.4" fill="#f0504f"/>
<rect x="624.1" y="555.20" width="10" height="1.4" fill="#f0504f"/>
<rect x="624.1" y="558.00" width="10" height="1.4" fill="#f0504f"/>
<rect x="624.1" y="549.4" width="5.4" height="5.6" fill="#3b8eea"/>
</g>
<text x="671.6" y="24.4" font-size="8.1" textLength="26.3" lengthAdjust="spacingAndGlyphs">1.12000</text>
<text x="671.6" y="59.2" font-size="8.1" textLength="26.3" lengthAdjust="spacingAndGlyphs">1.11000</text>
<text x="671.6" y="94.0" font-size="8.1" textLength="26.3" lengthAdjust="spacingAndGlyphs">1.10000</text>
<text x="671.6" y="128.8" font-size="8.1" textLength="26.3" lengthAdjust="spacingAndGlyphs">1.09000</text>
<text x="671.6" y="163.6" font-size="8.1" textLength="26.3" lengthAdjust="spacingAndGlyphs">1.08000</text>
<text x="671.6" y="198.5" font-size="8.1" textLength="26.3" lengthAdjust="spacingAndGlyphs">1.07000</text>
<text x="671.6" y="233.3" font-size="8.1" textLength="26.3" lengthAdjust="spacingAndGlyphs">1.06000</text>
<text x="671.6" y="268.1" font-size="8.1" textLength="26.3" lengthAdjust="spacingAndGlyphs">1.05000</text>
<text x="671.6" y="302.9" font-size="8.1" textLength="26.3" lengthAdjust="spacingAndGlyphs">1.04000</text>
<text x="671.6" y="337.7" font-size="8.1" textLength="26.3" lengthAdjust="spacingAndGlyphs">1.03000</text>
<text x="671.6" y="372.6" font-size="8.1" textLength="26.3" lengthAdjust="spacingAndGlyphs">1.02000</text>
<text x="671.6" y="407.4" font-size="8.1" textLength="26.3" lengthAdjust="spacingAndGlyphs">1.01000</text>
<text x="671.6" y="442.2" font-size="8.1" textLength="26.3" lengthAdjust="spacingAndGlyphs">1.00000</text>
<text x="671.6" y="477.0" font-size="8.1" textLength="26.3" lengthAdjust="spacingAndGlyphs">0.99000</text>
<text x="671.6" y="511.8" font-size="8.1" textLength="26.3" lengthAdjust="spacingAndGlyphs">0.98000</text>
<text x="671.6" y="546.7" font-size="8.1" textLength="26.3" lengthAdjust="spacingAndGlyphs">0.97000</text>
<clipPath id="axclip"><rect x="660" y="0" width="50" height="580.6"/></clipPath>
<text clip-path="url(#axclip)" x="671.6" y="581.5" font-size="8.1" textLength="26.3" lengthAdjust="spacingAndGlyphs">0.96000</text>
<line x1="0" x2="710" y1="581.2" y2="581.2" stroke="#e0e3eb" stroke-width="0.8"/>
<rect x="666.1" y="143.9" width="38.4" height="20.8" rx="1.2" fill="#089981"/>
<text x="671.6" y="152.7" font-size="7.9" textLength="26.6" lengthAdjust="spacingAndGlyphs" style="fill:#fff;stroke:#fff">1.08343</text>
<text x="671" y="162.1" font-size="7.9" textLength="30.1" lengthAdjust="spacingAndGlyphs" style="fill:#d4f2ec;stroke:#d4f2ec">07:43:53</text>
<rect x="666" y="550" width="40.7" height="11" rx="1.2" fill="#26a69a"/>
<text x="671.7" y="558.1" font-size="8.2" textLength="31.9" lengthAdjust="spacingAndGlyphs" style="fill:#fff;stroke:#fff">108.081K</text>
<text x="83" y="593.1" font-size="8.4" text-anchor="middle">Dec</text>
<text x="169.4" y="593.1" font-size="8.4" text-anchor="middle" font-weight="700" textLength="17.6" lengthAdjust="spacingAndGlyphs">2023</text>
<text x="254" y="593.1" font-size="8.4" text-anchor="middle">Feb</text>
<text x="332.2" y="593.1" font-size="8.4" text-anchor="middle">Mar</text>
<text x="422" y="593.1" font-size="8.4" text-anchor="middle">Apr</text>
<text x="500.1" y="593.1" font-size="8.4" text-anchor="middle">May</text>
<text x="590.1" y="593.1" font-size="8.4" text-anchor="middle">Jun</text>
<text x="655.8" y="593.1" font-size="8.4" text-anchor="middle">26</text>
<polygon points="693.30,591.00 690.95,595.07 686.25,595.07 683.90,591.00 686.25,586.93 690.95,586.93" fill="none" stroke="#131722" stroke-width="0.9" stroke-linejoin="round"/>
<circle cx="688.6" cy="591" r="1.5" fill="none" stroke="#131722" stroke-width="0.9"/>
<g>
<g fill="#fff" stroke="#fff" stroke-width="2.2" stroke-linejoin="round"><path d="M7.6 561.3H16.9V570.6H12.2V565.5H7.6Z"/><circle cx="19.1" cy="563.3" r="1.45"/><path d="M21.9 561.3H27L23.3 570.6H18.2Z"/></g>
<g fill="#131722"><path d="M7.6 561.3H16.9V570.6H12.2V565.5H7.6Z"/><circle cx="19.1" cy="563.3" r="1.45"/><path d="M21.9 561.3H27L23.3 570.6H18.2Z"/></g>
<text x="32.1" y="570.6" font-size="13" font-weight="700" textLength="77.8" lengthAdjust="spacingAndGlyphs" style="paint-order:stroke;stroke:#fff;stroke-width:2.4px;stroke-linejoin:round">TradingView</text>
</g>
<circle cx="14.4" cy="8" r="3.8" fill="#fff"/>
<clipPath id="usc"><circle cx="14.4" cy="8" r="3.8"/></clipPath>
<g clip-path="url(#usc)"><rect x="10" y="4" width="9" height="8" fill="#fbe9ea"/><rect x="10" y="5.2" width="9" height="1" fill="#ef5350"/><rect x="10" y="7.4" width="9" height="1" fill="#ef5350"/><rect x="10" y="9.6" width="9" height="1" fill="#ef5350"/><rect x="10" y="4" width="5.2" height="4.6" fill="#5aa9f0"/></g>
<circle cx="9.7" cy="12.9" r="4.3" fill="#fff"/>
<circle cx="9.7" cy="12.9" r="3.9" fill="#1e6fd9"/>
<circle cx="9.7" cy="12.9" r="1.9" fill="none" stroke="#4f9cf0" stroke-width="0.7"/>
<text x="20.4" y="14.8" font-size="10.3" textLength="134.3" lengthAdjust="spacingAndGlyphs">Euro / U.S. Dollar · 1D · FXCM</text>
<clipPath id="pill"><rect x="165" y="5.1" width="25.9" height="11.4" rx="5.7"/></clipPath>
<g clip-path="url(#pill)"><rect x="165" y="5" width="13" height="12" fill="#dff1ee"/><rect x="178" y="5" width="13" height="12" fill="#fddde6"/></g>
<circle cx="172.2" cy="10.8" r="2.9" fill="#089981"/>
<path d="M181.3 9.9q1.45-1.3 2.9 0t2.9 0M181.3 12.4q1.45-1.3 2.9 0t2.9 0" fill="none" stroke="#e8265e" stroke-width="1" stroke-linecap="round"/>
<text x="201.3" y="14.9" font-size="8.4" textLength="5.3" lengthAdjust="spacingAndGlyphs">O</text>
<text x="207.2" y="14.9" font-size="8.4" textLength="29.4" lengthAdjust="spacingAndGlyphs" style="fill:#089981;stroke:#089981">1.07929</text>
<text x="241.5" y="14.9" font-size="8.4" textLength="5.3" lengthAdjust="spacingAndGlyphs">H</text>
<text x="247.4" y="14.9" font-size="8.4" textLength="29.4" lengthAdjust="spacingAndGlyphs" style="fill:#089981;stroke:#089981">1.08349</text>
<text x="281.4" y="14.9" font-size="8.4" textLength="4.0" lengthAdjust="spacingAndGlyphs">L</text>
<text x="286.0" y="14.9" font-size="8.4" textLength="29.4" lengthAdjust="spacingAndGlyphs" style="fill:#089981;stroke:#089981">1.07737</text>
<text x="319.5" y="14.9" font-size="8.4" textLength="5.0" lengthAdjust="spacingAndGlyphs">C</text>
<text x="325.0" y="14.9" font-size="8.4" textLength="29.4" lengthAdjust="spacingAndGlyphs" style="fill:#089981;stroke:#089981">1.08343</text>
<text x="358" y="14.9" font-size="8.4" textLength="36" lengthAdjust="spacingAndGlyphs" style="fill:#089981;stroke:#089981">+0.00414</text>
<text x="396" y="14.9" font-size="8.4" textLength="31.8" lengthAdjust="spacingAndGlyphs" style="fill:#089981;stroke:#089981">(+0.38%)</text>
<rect x="5.1" y="22.4" width="39.3" height="15.6" rx="2.2" fill="#fff" stroke="#f4616d" stroke-width="0.9"/>
<text x="11" y="33.4" font-size="8.4" textLength="25.2" lengthAdjust="spacingAndGlyphs" style="fill:#f23645;stroke:#f23645">1.0834</text>
<text x="36.6" y="31.7" font-size="6.7" style="fill:#f23645;stroke:#f23645">3</text>
<text x="50" y="33.4" font-size="8.0" textLength="10" lengthAdjust="spacingAndGlyphs">0.2</text>
<rect x="65.1" y="22.4" width="39.3" height="15.6" rx="2.2" fill="#fff" stroke="#5b84fb" stroke-width="0.9"/>
<text x="71" y="33.4" font-size="8.4" textLength="25.2" lengthAdjust="spacingAndGlyphs" style="fill:#2962ff;stroke:#2962ff">1.0834</text>
<text x="96.6" y="31.7" font-size="6.7" style="fill:#2962ff;stroke:#2962ff">5</text>
<text x="6" y="53" font-size="8.3" textLength="10.5" lengthAdjust="spacingAndGlyphs">Vol</text>
<text x="26.6" y="53" font-size="8.3" textLength="34.3" lengthAdjust="spacingAndGlyphs" style="fill:#089981;stroke:#089981">108.081K</text>
</svg>
</body></html>
